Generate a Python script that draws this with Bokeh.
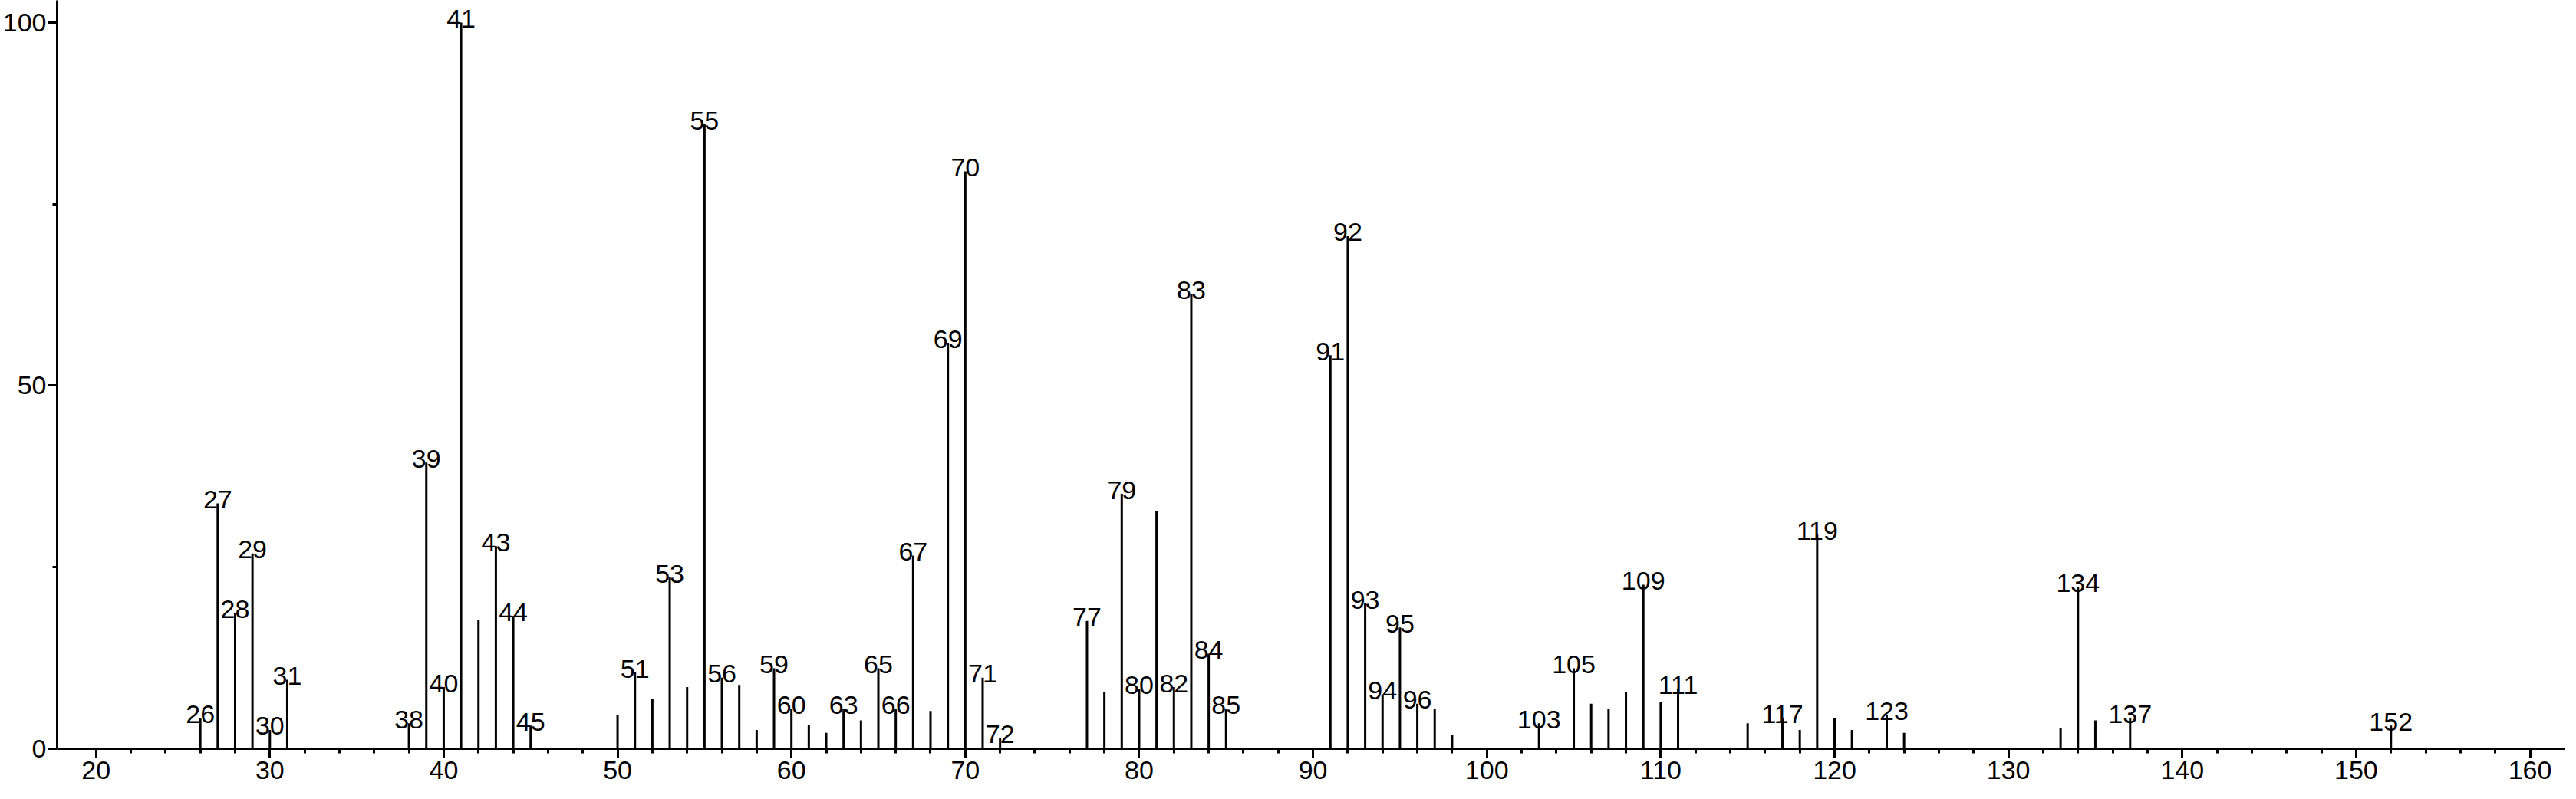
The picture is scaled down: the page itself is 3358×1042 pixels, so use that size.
from bokeh.plotting import figure
from bokeh.models import Range1d, FixedTicker, ColumnDataSource
from bokeh.embed import file_html
from bokeh.resources import INLINE
from bokeh.core.properties import value

# ---- data (m/z, relative intensity) ----
mz = [26, 27, 28, 29, 30, 31, 38, 39, 40, 41, 42, 43, 44, 45,
      50, 51, 52, 53, 54, 55, 56, 57, 58, 59, 60, 61, 62, 63, 64, 65, 66, 67, 68, 69, 70, 71, 72,
      77, 78, 79, 80, 81, 82, 83, 84, 85,
      91, 92, 93, 94, 95, 96, 97, 98,
      103, 105, 106, 107, 108, 109, 110, 111,
      115, 117, 118, 119, 120, 121, 123, 124,
      133, 134, 135, 137, 152]
intensity = [4.2, 33.8, 18.7, 26.9, 2.6, 9.5, 3.5, 39.4, 8.5, 100.0, 17.7, 27.9, 18.3, 3.2,
             4.6, 10.5, 6.9, 23.6, 8.5, 86.0, 9.8, 8.8, 2.6, 11.1, 5.5, 3.3, 2.2, 5.5, 3.9, 11.1, 5.5, 26.6, 5.2, 55.9, 79.5, 9.8, 1.5,
             17.6, 7.8, 35.1, 8.2, 32.8, 8.5, 62.6, 13.1, 5.5,
             54.2, 70.6, 20.0, 7.5, 16.7, 6.2, 5.5, 1.9,
             3.5, 11.1, 6.2, 5.5, 7.8, 22.6, 6.5, 8.2,
             3.5, 4.2, 2.6, 29.5, 4.2, 2.6, 4.6, 2.2,
             2.9, 22.3, 3.9, 4.2, 3.2]
labeled_mz = [26, 27, 28, 29, 30, 31, 38, 39, 40, 41, 43, 44, 45,
              51, 53, 55, 56, 59, 60, 63, 65, 66, 67, 69, 70, 71, 72,
              77, 79, 80, 82, 83, 84, 85, 91, 92, 93, 94, 95, 96,
              103, 105, 109, 111, 117, 119, 123, 134, 137, 152]

x_major_ticks = [20, 30, 40, 50, 60, 70, 80, 90, 100, 110, 120, 130, 140, 150, 160]
x_minor_ticks = [t for t in range(22, 160, 2) if t % 10 != 0]
y_major_ticks = [0, 50, 100]
y_minor_ticks = [25, 75]

FONT = "Liberation Sans"
FS = "34px"

p = figure(frame_width=3270, frame_height=976,
           x_range=Range1d(17.765, 162.05), y_range=Range1d(0, 103.06),
           output_backend="svg", toolbar_location=None,
           min_border_left=0, min_border_right=0, min_border_top=0, min_border_bottom=56)
p.outline_line_color = None
p.xgrid.visible = False
p.ygrid.visible = False
p.background_fill_color = "white"
p.border_fill_color = "white"

src = ColumnDataSource(dict(x=mz, y0=[0] * len(mz), y=intensity))
p.segment(x0="x", y0="y0", x1="x", y1="y", source=src, line_color="black", line_width=3)

lab_x = [m for m in mz if m in labeled_mz]
lab_y = [intensity[i] for i, m in enumerate(mz) if m in labeled_mz]
lab_t = [str(m) for m in lab_x]
lsrc = ColumnDataSource(dict(x=lab_x, y=lab_y, t=lab_t))
p.text(x="x", y="y", text="t", source=lsrc, text_align="center", text_baseline="alphabetic",
       y_offset=-5, text_font=value(FONT), text_font_size=FS, text_color="black")

for ax, maj, mnr in ((p.xaxis[0], x_major_ticks, x_minor_ticks), (p.yaxis[0], y_major_ticks, y_minor_ticks)):
    ax.ticker = FixedTicker(ticks=maj, minor_ticks=mnr)
    ax.axis_line_width = 3
    ax.axis_line_color = "black"
    ax.major_tick_line_width = 3
    ax.minor_tick_line_width = 3
    ax.major_tick_line_color = "black"
    ax.minor_tick_line_color = "black"
    ax.major_tick_in = 0
    ax.minor_tick_in = 0
    ax.major_tick_out = 12
    ax.minor_tick_out = 6
    ax.major_label_text_font = FONT
    ax.major_label_text_font_size = FS
    ax.major_label_text_color = "black"
p.xaxis.major_label_standoff = 4
p.yaxis.major_label_standoff = 2

open("out.html", "w").write(file_html(p, INLINE))
